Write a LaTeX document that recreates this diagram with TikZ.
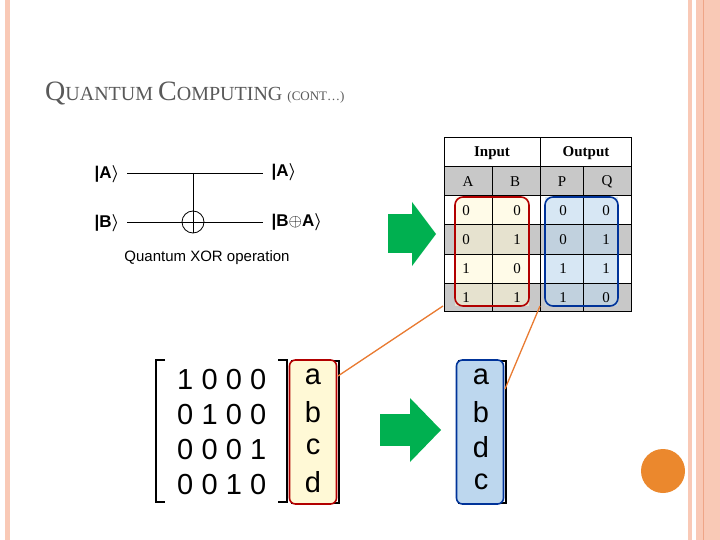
\documentclass[tikz,border=0pt]{standalone}
\usepackage{fontspec}
\setmainfont{Liberation Serif}
\newfontfamily\sans{Liberation Sans}
\definecolor{salmon}{HTML}{F9C9B6}
\definecolor{salmond}{HTML}{EFA587}
\definecolor{garrow}{HTML}{00B050}
\definecolor{orng}{HTML}{E97B32}
\definecolor{yel}{HTML}{FFF9D6}
\definecolor{blu}{HTML}{BDD7EE}
\definecolor{gry}{HTML}{C8C8C8}
\newcommand{\kt}{\raisebox{0.5pt}{\boldmath$\rangle$}}
\begin{document}
\begin{tikzpicture}[x=1pt,y=-1pt,
  cell/.style={font=\fontsize{15}{15}\selectfont},
  hdr/.style={font=\bfseries\fontsize{15}{15}\selectfont},
  ket/.style={font=\sans\bfseries\fontsize{17}{17}\selectfont},
  mat/.style={font=\sans\fontsize{29}{29}\selectfont},
  olink/.style={orng,line width=1.3pt}]
\useasboundingbox (0,0) rectangle (720,540);
\fill[white] (0,0) rectangle (720,540);
% slide decoration
\fill[salmon] (5,0) rectangle (10,540);
\fill[salmon] (688,0) rectangle (692,540);
\fill[salmon] (696,0) rectangle (720,540);
\draw[salmond,line width=1pt] (703,0) -- (703,540);
\fill[orng!90!yellow] (663,471) circle (22);
% title
\node[anchor=base west,text=gray!70!black,inner sep=0] (title) at (45,101)
 {\fontsize{28}{28}\selectfont Q\fontsize{20}{20}\selectfont UANTUM \fontsize{28}{28}\selectfont C\fontsize{20}{20}\selectfont OMPUTING \fontsize{13}{13}\selectfont(CONT…)};
% circuit
\node[ket] (ka) at (107,174) {|A\kt};
\node[ket] (kb) at (107,223) {|B\kt};
\node[ket,anchor=west] (ka2) at (268,172) {|A\kt};
\node[ket,anchor=west] (kb2) at (268,222) {|B$\oplus$A\kt};
\coordinate (ea) at (263,173);
\coordinate (eb) at (263,222);
\coordinate (ca) at (193,173);
\node[draw,circle,minimum size=22pt,inner sep=0,line width=0.8pt] (xo) at (193,222) {};
\draw[line width=0.8pt] (127,173) -- (ea);
\draw[line width=0.8pt] (127,222) -- (eb);
\draw[line width=0.8pt] (ca) -- (xo.south);
\node[font=\sans\fontsize{15}{15}\selectfont] (cap) at (207,258) {Quantum XOR operation};
% arrows
\fill[garrow] (388,214) rectangle (413,253);
\fill[garrow] (412,202) -- (436,234) -- (412,266) -- cycle;
\fill[garrow] (380,414) rectangle (411,446);
\fill[garrow] (410,398) -- (441,430) -- (410,462) -- cycle;
% table
\foreach \y/\c in {138/white,167/gry,196/white,225/gry,254/white,283/gry}{
  \fill[\c] (444,\y) rectangle (631,\y+29);}
\fill[yel,opacity=0.55] (455,197) rectangle (529,306);
\fill[blu,opacity=0.6] (545,197) rectangle (618,306);
\draw[line width=1pt] (444,138) rectangle (631,311);
\foreach \y in {167,196,225,254,283}{\draw[line width=1pt] (444,\y) -- (631,\y);}
\draw[line width=1pt] (540,138) -- (540,311);
\draw[line width=1pt] (492,167) -- (492,311);
\draw[line width=1pt] (583,167) -- (583,311);
\node[hdr] (hin) at (492,153) {Input};
\node[hdr] (hout) at (586,153) {Output};
\foreach \x/\t in {468/A,515/B,562/P,607/Q}{\node[cell] at (\x,182) {\t};}
\foreach \a/\b/\p/\q [count=\i] in {0/0/0/0,0/1/0/1,1/0/1/1,1/1/1/0}{
  \node[cell] at (466,182+29*\i) {\a};
  \node[cell] at (517,182+29*\i) {\b};
  \node[cell] at (563,182+29*\i) {\p};
  \node[cell] at (606,182+29*\i) {\q};}
\draw[red!70!black,line width=1.6pt,rounded corners=8pt] (455,197) rectangle (529,306);
\draw[blue!50!black!80!cyan,line width=1.6pt,rounded corners=8pt] (545,197) rectangle (618,306);
% matrix
\draw[line width=1.2pt] (165,360) -- (156,360) -- (156,502) -- (165,502);
\draw[line width=1.2pt] (278,360) -- (287,360) -- (287,502) -- (278,502);
\foreach \r/\row in {0/{1,0,0,0},1/{0,1,0,0},2/{0,0,0,1},3/{0,0,1,0}}{
  \foreach \v [count=\j] in \row {\node[mat] at (161+24.3*\j,380+35*\r) {\v};}}
% vectors
\draw[line width=1.2pt] (292,361) rectangle (339,503);
\node[draw=red!70!black,fill=yel,line width=1.6pt,rounded corners=6pt,minimum width=47pt,minimum height=144pt] (va) at (313,432) {};
\foreach \t [count=\i] in {a,b,c,d}{\node[mat] at (313,342+35*\i) {\t};}
\draw[line width=1.2pt] (459,361) rectangle (506,503);
\node[draw=blue!50!black!80!cyan,fill=blu,line width=1.6pt,rounded corners=6pt,minimum width=47pt,minimum height=144pt] (vb) at (480,432) {};
\foreach \t [count=\i] in {a,b,d,c}{\node[mat] at (481,342+35*\i) {\t};}
% links
\draw[olink] (443,306) -- (338,376);
\draw[olink] (540,306) -- (505,389);
\end{tikzpicture}
\end{document}
